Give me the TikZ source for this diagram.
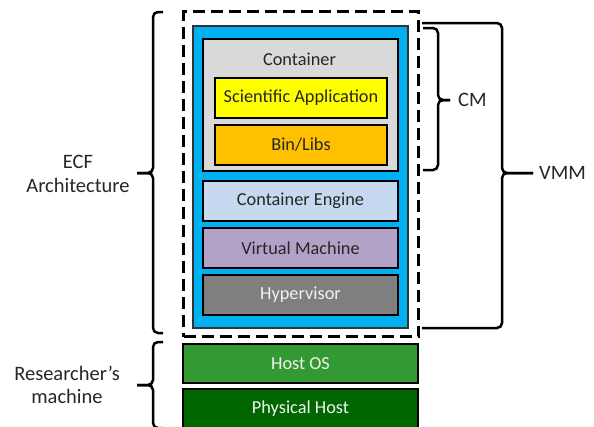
\documentclass[tikz,border=0pt]{standalone}
\usepackage{fontspec}
\setmainfont{Carlito}
\definecolor{txtdark}{HTML}{262626}
\definecolor{vmblue}{HTML}{00B0F0}
\definecolor{contgray}{HTML}{D9D9D9}
\definecolor{sciyellow}{HTML}{FFFF00}
\definecolor{binorange}{HTML}{FFC000}
\definecolor{engblue}{HTML}{C6D9F1}
\definecolor{vmpurple}{HTML}{B3A2C7}
\definecolor{hypgray}{HTML}{7F7F7F}
\definecolor{hostgreen}{HTML}{339933}
\definecolor{physgreen}{HTML}{006600}
\begin{document}
\begin{tikzpicture}[x=1pt,y=-1pt,
  box/.style={draw=black, line width=2pt, inner sep=0pt, anchor=north west,
    font=\fontsize{18.3}{21}\selectfont, text=txtdark},
  lbl/.style={font=\fontsize{20.5}{23.5}\selectfont, text=txtdark, align=center, inner sep=0pt},
  brc/.style={line width=2.5pt, rounded corners=5pt}]
\useasboundingbox (0,0) rectangle (594,426);
\clip (0,0) rectangle (594,426);
% dashed frame
\node[draw=black, line width=3pt, dash pattern=on 12pt off 6pt, anchor=north west,
  minimum width=235pt, minimum height=325pt, inner sep=0pt] (ecf) at (182,10) {};
% blue VM box
\node[draw=black!80, line width=1.5pt, fill=vmblue, anchor=north west,
  minimum width=215pt, minimum height=302pt, inner sep=0pt] (vmm) at (192,25) {};
% container
\node[box, fill=contgray, minimum width=195pt, minimum height=132pt] (cont) at (202,38) {};
\node[font=\fontsize{18.3}{21}\selectfont, text=txtdark] (conttxt) at (299.5,59) {Container};
\node[box, fill=sciyellow, minimum width=172pt, minimum height=40pt] (sci) at (214,77) {Scientific Application};
\node[box, fill=binorange, minimum width=172pt, minimum height=40pt] (bin) at (214,124) {Bin/Libs};
\node[box, fill=engblue, minimum width=195pt, minimum height=40pt] (eng) at (202,180) {Container Engine};
\node[box, fill=vmpurple, minimum width=195pt, minimum height=40pt] (vm) at (202,227) {Virtual Machine};
\node[box, fill=hypgray, minimum width=195pt, minimum height=40pt, text=black!5] (hyp) at (202,274) {Hypervisor};
\node[box, fill=hostgreen, minimum width=235pt, minimum height=39pt, text=black!5] (host) at (182,343) {Host OS};
\node[box, fill=physgreen, minimum width=235pt, minimum height=40pt, text=black!5] (phys) at (182,388) {Physical Host};
% braces
\draw[brc] (163,12) -- (153,12) -- (153,173) -- (137,173);
\draw[brc] (163,333) -- (153,333) -- (153,173) -- (137,173);
\draw[brc] (163,342) -- (153,342) -- (153,385) -- (137,385);
\draw[brc] (163,428) -- (153,428) -- (153,385) -- (137,385);
\draw[brc] (423,28) -- (438,28) -- (438,100) -- (450,100);
\draw[brc] (423,170) -- (438,170) -- (438,100) -- (450,100);
\draw[brc] (422,23) -- (502,23) -- (502,173) -- (533,173);
\draw[brc] (422,328) -- (502,328) -- (502,173) -- (533,173);
% labels
\node[lbl] (ecflbl) at (78,174) {ECF\\Architecture};
\node[lbl] (reslbl) at (67,385) {Researcher’s\\machine};
\node[lbl, anchor=west] (cmlbl) at (458,100) {CM};
\node[lbl, anchor=west] (vmmlbl) at (539,173) {VMM};
\end{tikzpicture}
\end{document}
